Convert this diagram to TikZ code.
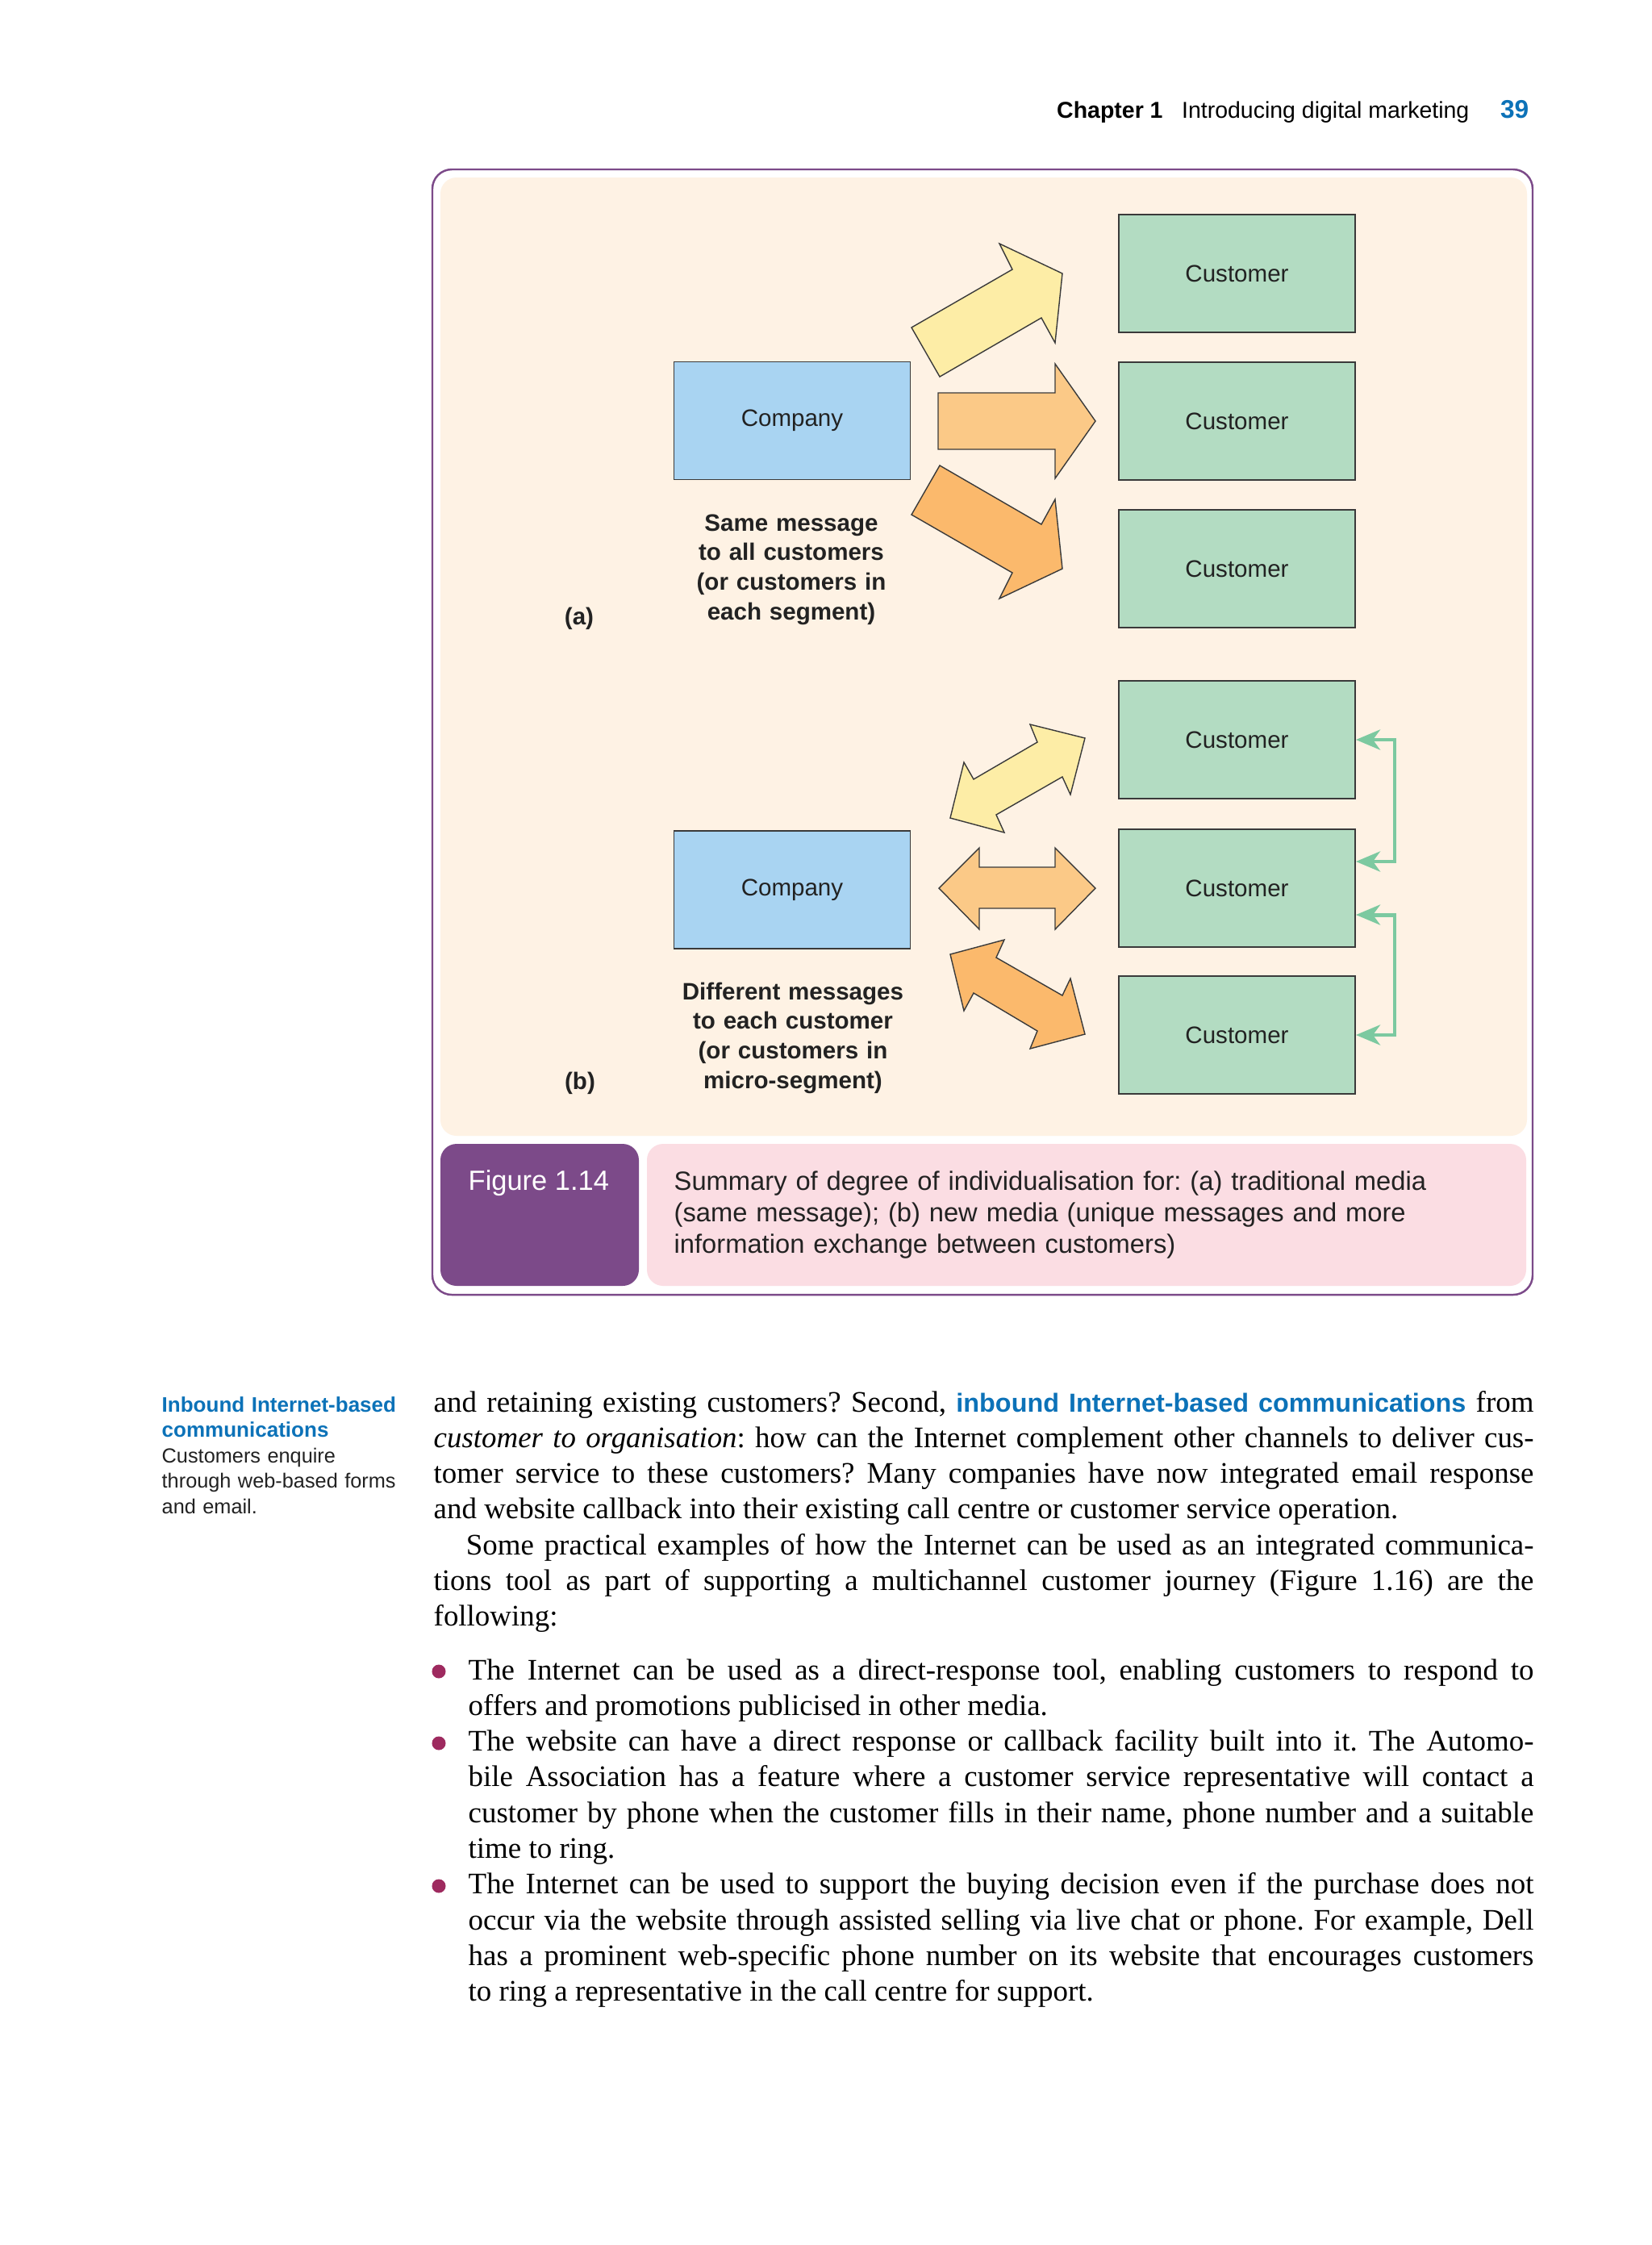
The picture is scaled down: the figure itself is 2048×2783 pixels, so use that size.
\documentclass[tikz,border=0pt]{standalone}
\usepackage{fontspec}
\setmainfont{Liberation Sans}
\newfontfamily\bodyfont{Liberation Serif}
\newfontfamily\labelfont{Liberation Sans}
\usetikzlibrary{%
  positioning,
  calc,
  arrows.meta
}
\definecolor{cream}{HTML}{FEF2E4}
\definecolor{companyblue}{HTML}{A9D4F2}
\definecolor{customergreen}{HTML}{B3DCC2}
\definecolor{boxline}{HTML}{3A3A3A}
\definecolor{yellowarrow}{HTML}{FDEDA6}
\definecolor{lightorange}{HTML}{FBC987}
\definecolor{darkorange}{HTML}{FBB96C}
\definecolor{linkgreen}{HTML}{7CC9A0}
\definecolor{figpurple}{HTML}{7C4A89}
\definecolor{captionpink}{HTML}{FBDDE3}
\definecolor{noteblue}{HTML}{0C72B8}
\definecolor{bulletred}{HTML}{9E2A5F}
\definecolor{textdark}{HTML}{222222}
\tikzstyle{company}=[draw=boxline, line width=0.5pt, fill=companyblue, rectangle, minimum width=2.93cm, minimum height=1.46cm, inner sep=0pt, text=textdark, font=\fontsize{8.4}{10}\selectfont]
\tikzstyle{customer}=[company, fill=customergreen]
\tikzstyle{blockarrow}=[draw=boxline, line width=0.4pt, line join=miter]
\tikzstyle{note}=[align=center, text width=3.2cm, inner sep=0pt, anchor=base, text=textdark, font=\fontsize{8.4}{10.5}\selectfont\bfseries]
\tikzstyle{partlabel}=[inner sep=0pt, anchor=base, text=textdark, font=\fontsize{8.4}{10.5}\selectfont\bfseries]
\tikzstyle{link}=[draw=linkgreen, line width=1.4pt, {Stealth[length=0.3cm,width=0.25cm,inset=0.09cm]}-{Stealth[length=0.3cm,width=0.25cm,inset=0.09cm]}]
\tikzstyle{bodytext}=[anchor=base west, inner sep=0pt, align=justify, font=\bodyfont\fontsize{10.5}{12.6}\selectfont]
\frenchspacing

\begin{document}
\begin{tikzpicture}[x=0.01cm, y=-0.01cm]
        \useasboundingbox[fill=white] (0,0) rectangle (2048,2783);
        % page header
        \node[anchor=base east, inner sep=0pt, font=\fontsize{8.1}{10}\selectfont] (header) at (1896,146) {\textbf{Chapter 1}\hspace{6.7pt}Introducing digital marketing\hspace{11pt}\textcolor{noteblue}{\fontsize{9}{10}\selectfont\textbf{39}}};
        % figure frame
        \draw[draw=figpurple, line width=0.7pt, rounded corners=0.24cm] (536,210) rectangle (1900,1605);
        \fill[cream, rounded corners=0.2cm] (546,220) rectangle (1893,1408);
        \fill[figpurple, rounded corners=0.2cm] (546,1418) rectangle (792,1594);
        \fill[captionpink, rounded corners=0.2cm] (802,1418) rectangle (1892,1594);
        % (a) traditional media
        \node[company] (compa) at (982,521.5) {Company};
        \node[customer] (custa1) at (1533.5,339) {Customer};
        \node[customer] (custa2) at (1533.5,522) {Customer};
        \node[customer] (custa3) at (1533.5,705) {Customer};
        \draw[blockarrow, fill=yellowarrow] (1130,406) -- (1255,334) -- (1239,302) -- (1317,339) -- (1308,425) -- (1291,394) -- (1165,467) -- cycle;
        \draw[blockarrow, fill=lightorange] (1163,487) -- (1308,487) -- (1308,451) -- (1358,522) -- (1308,593) -- (1308,557) -- (1163,557) -- cycle;
        \draw[blockarrow, fill=darkorange] (1130,638) -- (1255,710) -- (1239,742) -- (1317,705) -- (1308,619) -- (1291,650) -- (1165,577) -- cycle;
        \node[note] (samemsg) at (981,658) {Same message\\to all customers\\(or customers in\\each segment)};
        \node[partlabel] (labela) at (718,774) {(a)};
        % (b) new media
        \node[company] (compb) at (982,1103) {Company};
        \node[customer] (custb1) at (1533.5,917) {Customer};
        \node[customer] (custb2) at (1533.5,1101) {Customer};
        \node[customer] (custb3) at (1533.5,1283) {Customer};
        \draw[blockarrow, fill=yellowarrow] (1178,1014) -- (1195,945) -- (1207,966) -- (1286,920) -- (1277,898) -- (1345,915) -- (1327,985) -- (1317,963) -- (1235,1010) -- (1245,1032) -- cycle;
        \draw[blockarrow, fill=lightorange] (1164,1101) -- (1214,1051) -- (1214,1075) -- (1308,1075) -- (1308,1051) -- (1358,1101) -- (1308,1152) -- (1308,1126) -- (1214,1126) -- (1214,1152) -- cycle;
        \draw[blockarrow, fill=darkorange] (1178,1183) -- (1245,1165) -- (1235,1187) -- (1317,1234) -- (1327,1213) -- (1345,1282) -- (1277,1300) -- (1286,1278) -- (1207,1231) -- (1195,1253) -- cycle;
        \draw[link] (custb1.east) -- ++(48,0) |- ([yshift=0.33cm]custb2.east);
        \draw[link] ([yshift=-0.33cm]custb2.east) -- ++(48,0) |- (custb3.east);
        \node[note] (diffmsg) at (983,1239) {Different messages\\to each customer\\(or customers in\\micro-segment)};
        \node[partlabel] (labelb) at (719,1350) {(b)};
        % caption
        \node[anchor=base west, inner sep=0pt, text=white, font=\fontsize{9.8}{11}\selectfont] (figlabel) at (580,1475) {Figure 1.14};
        \node[anchor=base west, inner sep=0pt, text width=10.5cm, align=left, text=textdark, font=\fontsize{9.3}{11.1}\selectfont] (caption) at (835,1475) {Summary of degree of individualisation for: (a) traditional media\\(same message); (b) new media (unique messages and more\\information exchange between customers)};
        % margin note
        \node[anchor=base west, inner sep=0pt, text width=3.2cm, align=left, text=textdark, font=\fontsize{7.2}{9}\selectfont] (margin) at (200,1750) {\textcolor{noteblue}{\fontsize{7.4}{9}\selectfont\bfseries Inbound Internet-based}\\\textcolor{noteblue}{\fontsize{7.4}{9}\selectfont\bfseries communications}\\Customers enquire\\through web-based forms\\and email.};
        % body text
        \node[bodytext, text width=13.63cm] (body) at (537,1750) {\hyphenpenalty=10000 and retaining existing customers? Second, {\labelfont\bfseries\fontsize{9.2}{12.6}\selectfont\color{noteblue}inbound Internet-based communications} from\linebreak \textit{customer to organisation}: how can the Internet complement other channels to deliver cus-\linebreak tomer service to these customers? Many companies have now integrated email response\linebreak and website callback into their existing call centre or customer service operation.\par
        \hspace*{11.4pt}Some practical examples of how the Internet can be used as an integrated communica-\linebreak tions tool as part of supporting a multichannel customer journey (Figure 1.16) are the\linebreak following:};
        \node[bodytext, text width=13.2cm] (bullets) at (580,2082) {\hyphenpenalty=10000 The Internet can be used as a direct-response tool, enabling customers to respond to\linebreak offers and promotions publicised in other media.\par
        The website can have a direct response or callback facility built into it. The Automo-\linebreak bile Association has a feature where a customer service representative will contact a\linebreak customer by phone when the customer fills in their name, phone number and a suitable\linebreak time to ring.\par
        The Internet can be used to support the buying decision even if the purchase does not\linebreak occur via the website through assisted selling via live chat or phone. For example, Dell\linebreak has a prominent web-specific phone number on its website that encourages customers\linebreak to ring a representative in the call centre for support.};
        \fill[bulletred] (544,2072) circle (0.085cm);
        \fill[bulletred] (544,2161) circle (0.085cm);
        \fill[bulletred] (544,2338) circle (0.085cm);
      \end{tikzpicture}
\end{document}
